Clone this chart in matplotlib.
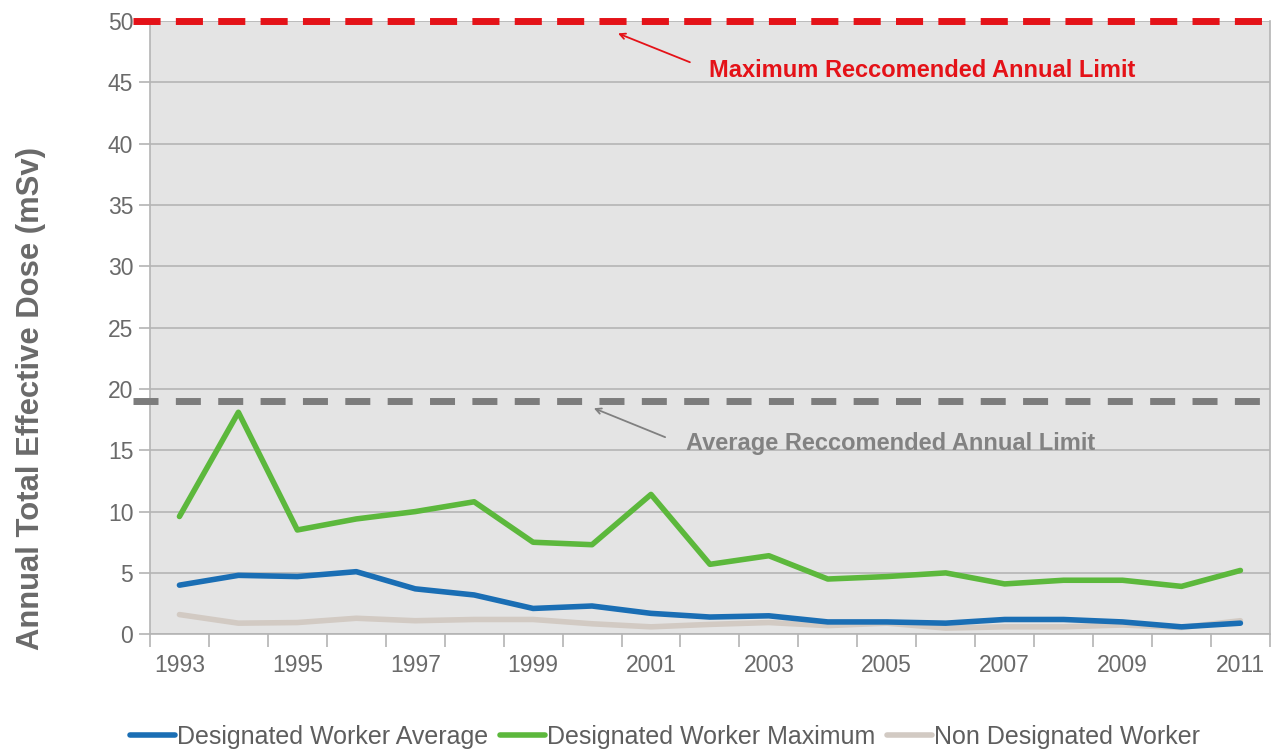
import matplotlib
matplotlib.use("Agg")
import matplotlib.pyplot as plt
import numpy as np

plt.rcParams["font.family"] = ["Liberation Sans", "DejaVu Sans"]

# annual dose per year (mSv)
years = list(range(1993, 2012))
designated_avg = [4.0, 4.8, 4.7, 5.1, 3.7, 3.2, 2.1, 2.3, 1.7, 1.4, 1.5,
                  1.0, 1.0, 0.9, 1.2, 1.2, 1.0, 0.6, 0.9]
designated_max = [9.6, 18.1, 8.5, 9.4, 10.0, 10.8, 7.5, 7.3, 11.4, 5.7, 6.4,
                  4.5, 4.7, 5.0, 4.1, 4.4, 4.4, 3.9, 5.2]
non_designated = [1.6, 0.9, 0.95, 1.3, 1.1, 1.2, 1.2, 0.85, 0.6, 0.8, 0.95,
                  0.7, 0.9, 0.5, 0.6, 0.6, 0.75, 0.55, 1.1]
max_limit = 50
avg_limit = 19

TXT = "#6a6a6a"
GRID = "#b4b4b4"
RED = "#e41218"

fig = plt.figure(figsize=(12.84, 7.55), dpi=100)
ax = fig.add_axes([0.1168, 0.160, 0.8722, 0.812])
ax.set_facecolor("#e4e4e4")

x = np.arange(len(years))
ax.plot(x, non_designated, color="#d2cac3", lw=4, solid_capstyle="round",
        label="Non Designated Worker", zorder=3)
ax.plot(x, designated_avg, color="#1a6eb4", lw=4, solid_capstyle="round",
        label="Designated Worker Average", zorder=4)
ax.plot(x, designated_max, color="#5cb83c", lw=4, solid_capstyle="round",
        label="Designated Worker Maximum", zorder=4)

# recommended limits, drawn past the left spine
ax.plot([-0.79, len(years) - 0.5], [max_limit, max_limit], color=RED,
        lw=5, dashes=(3.9, 2.2), clip_on=False, zorder=5)
ax.plot([-0.79, len(years) - 0.5], [avg_limit, avg_limit], color="#7c7c7c",
        lw=5, dashes=(3.6, 2.5), clip_on=False, zorder=5)

ax.annotate("", xy=(7.44, 49.0), xytext=(8.66, 46.65),
            arrowprops=dict(arrowstyle="->", color=RED, lw=1.3,
                            shrinkA=0, shrinkB=0))
ax.text(12.6, 46.0, "Maximum Reccomended Annual Limit", color=RED,
        fontsize=17, fontweight="bold", ha="center", va="center")
ax.annotate("", xy=(7.03, 18.43), xytext=(8.24, 16.07),
            arrowprops=dict(arrowstyle="->", color="#808080", lw=1.3,
                            shrinkA=0, shrinkB=0))
ax.text(12.07, 15.58, "Average Reccomended Annual Limit", color="#828282",
        fontsize=17, fontweight="bold", ha="center", va="center")

ax.set_xlim(-0.5, len(years) - 0.5)
ax.set_ylim(0, 50)
ax.set_yticks(range(0, 51, 5))
ax.yaxis.grid(True, color=GRID, lw=1.2)
ax.set_axisbelow(True)
ax.tick_params(axis="y", colors=GRID, labelcolor=TXT, labelsize=16.5,
               length=8, width=1.2, pad=4)

# category axis: labels on every other year, tick marks between years
ax.set_xticks(x[::2])
ax.set_xticklabels([str(y) for y in years[::2]])
ax.set_xticks(np.arange(-0.5, len(years), 1), minor=True)
ax.tick_params(axis="x", which="major", length=0, labelcolor=TXT,
               labelsize=16.5, pad=14)
ax.tick_params(axis="x", which="minor", length=9, width=1.2, colors=GRID)

for side in ("left", "right", "bottom"):
    ax.spines[side].set_color(GRID)
    ax.spines[side].set_linewidth(1.2)
ax.spines["top"].set_visible(False)

ax.set_ylabel("Annual Total Effective Dose (mSv)", color=TXT, fontsize=22.3,
              fontweight="bold")
ax.yaxis.set_label_coords(-0.093, 0.385)

handles, labels = ax.get_legend_handles_labels()
order = [1, 2, 0]
leg = fig.legend([handles[i] for i in order], [labels[i] for i in order],
                 loc="center", bbox_to_anchor=(0.518, 0.024), ncol=3,
                 frameon=False, fontsize=18, handlelength=1.8,
                 handletextpad=0.1, columnspacing=0.45)
for t in leg.get_texts():
    t.set_color("#5e5e5e")

fig.savefig("out.png", dpi=100)
